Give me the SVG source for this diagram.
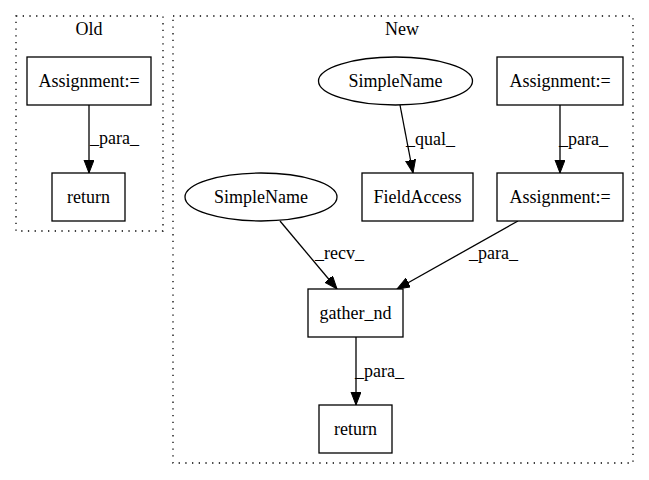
<svg xmlns="http://www.w3.org/2000/svg" width="649" height="480" viewBox="0 0 649 480">
<style>
text{font-family:"Liberation Serif","Times New Roman",serif;font-size:18px;fill:#000}
.node rect,.node ellipse{fill:#fff;stroke:#000;stroke-width:1.3}
.cluster{fill:none;stroke:#000;stroke-width:1.3;stroke-dasharray:1.3,5.4}
.edge{stroke:#000;stroke-width:1.3;fill:none;marker-end:url(#ah)}
.n{text-anchor:middle}
</style>
<defs>
<marker id="ah" markerUnits="userSpaceOnUse" markerWidth="14" markerHeight="11" refX="13" refY="5" orient="auto">
<path d="M0,0 L13,5 L0,10 Z" fill="#000" stroke="#000" stroke-width="1"/>
</marker>
</defs>
<g id="clusters">
<rect class="cluster" x="16" y="16" width="147" height="215"/>
<text class="n" x="89" y="35">Old</text>
<rect class="cluster" x="173" y="16" width="460" height="447"/>
<text class="n" x="402" y="35">New</text>
</g>
<g id="edges">
<path class="edge" d="M89,105 L89,173"/>
<text x="90" y="144">_para_</text>
<path class="edge" d="M400,105 L413,173"/>
<text x="406" y="145">_qual_</text>
<path class="edge" d="M560,105 L560,173"/>
<text x="559" y="145">_para_</text>
<path class="edge" d="M280,221 L337,289"/>
<text x="315" y="259">_recv_</text>
<path class="edge" d="M518,221 L397,289"/>
<text x="469" y="259">_para_</text>
<path class="edge" d="M356,337 L356,405"/>
<text x="355" y="377">_para_</text>
</g>
<g id="old_assign" class="node"><rect x="27" y="57" width="124" height="48"/><text class="n" x="89" y="87">Assignment:=</text></g>
<g id="old_return" class="node"><rect x="52" y="173" width="73" height="48"/><text class="n" x="88.5" y="203">return</text></g>
<g id="simplename1" class="node"><ellipse cx="395.5" cy="81" rx="77" ry="24"/><text class="n" x="395.5" y="87">SimpleName</text></g>
<g id="assign1" class="node"><rect x="497" y="57" width="126" height="48"/><text class="n" x="560" y="87">Assignment:=</text></g>
<g id="simplename2" class="node"><ellipse cx="261" cy="197" rx="76" ry="24"/><text class="n" x="261" y="203">SimpleName</text></g>
<g id="fieldaccess" class="node"><rect x="362" y="173" width="111" height="48"/><text class="n" x="417.5" y="203">FieldAccess</text></g>
<g id="assign2" class="node"><rect x="497" y="173" width="126" height="48"/><text class="n" x="560" y="203">Assignment:=</text></g>
<g id="gather_nd" class="node"><rect x="308" y="289" width="95" height="48"/><text class="n" x="355.5" y="319">gather_nd</text></g>
<g id="new_return" class="node"><rect x="319" y="405" width="73" height="48"/><text class="n" x="355.5" y="435">return</text></g>
</svg>
